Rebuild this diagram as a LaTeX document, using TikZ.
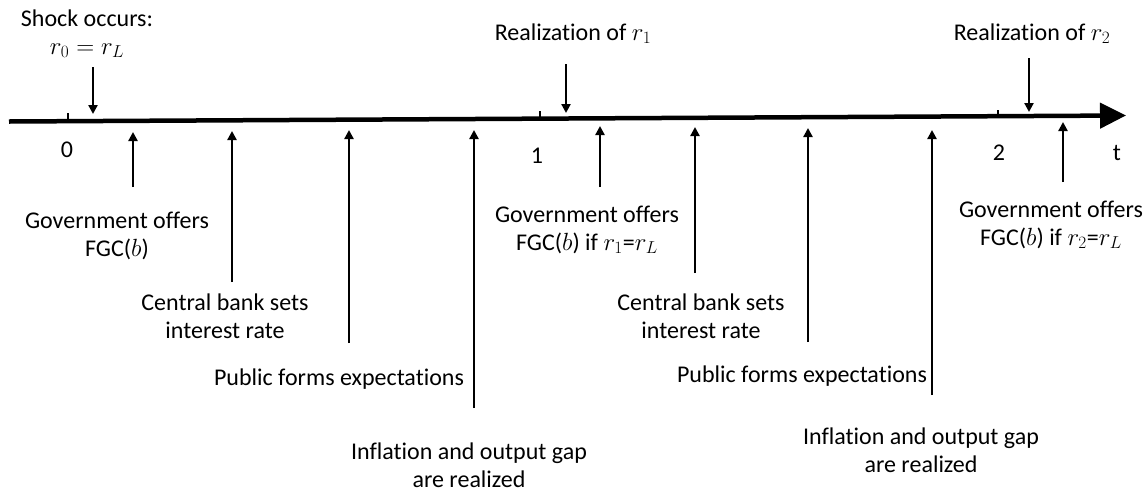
\documentclass[tikz,border=0pt]{standalone}
\usepackage{fontspec}
\setmainfont[Ligatures={NoCommon,NoContextual}]{Carlito}
\usetikzlibrary{arrows.meta}
\begin{document}
\begin{tikzpicture}[x=1pt,y=-1pt,
  lbl/.style={font=\fontsize{24}{28}\selectfont, inner sep=0pt, align=center, anchor=base},
  arr/.style={line width=2.5pt, -{Triangle[length=9pt,width=9pt]}},
  axisline/.style={line width=4.5pt, -{Triangle[length=26pt,width=25pt]}},
  tickmark/.style={line width=2pt}]
\useasboundingbox (0,0) rectangle (1145,491);

% axis
\coordinate (axL) at (9,121.5);
\coordinate (axR) at (1126,115.5);
\draw[axisline] (axL) -- (axR);

% ticks
\coordinate (t0a) at (68,121.2);   \coordinate (t0b) at (68,113);
\coordinate (t1a) at (540,118.6);  \coordinate (t1b) at (540,111);
\coordinate (t2a) at (998,116.2);  \coordinate (t2b) at (998,110);
\draw[tickmark] (t0a) -- (t0b);
\draw[tickmark] (t1a) -- (t1b);
\draw[tickmark] (t2a) -- (t2b);

% labels above (base anchor = baseline of the last line)
\node[lbl] (shock) at (87,54) {Shock occurs:\\$r_0=r_L$};
\node[lbl] (real1) at (573,40) {Realization of $r_1$};
\node[lbl] (real2) at (1032,40) {Realization of $r_2$};

% axis numbers
\node[lbl] (n0) at (67,157) {0};
\node[lbl] (n1) at (537,163) {1};
\node[lbl] (n2) at (999,160) {2};
\node[lbl] (tl) at (1117,160) {t};

% labels below
\node[lbl] (gov1) at (117,256) {Government offers\\FGC($b$)};
\node[lbl] (gov2) at (587,250) {Government offers\\FGC($b$) if $r_1$=$r_L$};
\node[lbl] (gov3) at (1051,245) {Government offers\\FGC($b$) if $r_2$=$r_L$};
\node[lbl] (cb1) at (225,338) {Central bank sets\\interest rate};
\node[lbl] (cb2) at (701,338) {Central bank sets\\interest rate};
\node[lbl] (pf1) at (339,385) {Public forms expectations};
\node[lbl] (pf2) at (802,382) {Public forms expectations};
\node[lbl] (in1) at (469,487) {Inflation and output gap\\are realized};
\node[lbl] (in2) at (921,472) {Inflation and output gap\\are realized};

% down arrows
\coordinate (d0a) at (93,67);   \coordinate (d0b) at (93,114);
\coordinate (d1a) at (566,64);  \coordinate (d1b) at (566,113);
\coordinate (d2a) at (1029,58); \coordinate (d2b) at (1029,112);
\draw[arr] (d0a) -- (d0b);
\draw[arr] (d1a) -- (d1b);
\draw[arr] (d2a) -- (d2b);

% up arrows
\coordinate (u1a) at (133,187);  \coordinate (u1b) at (133,132);
\coordinate (u2a) at (232,282);  \coordinate (u2b) at (232,131);
\coordinate (u3a) at (349,343);  \coordinate (u3b) at (349,130);
\coordinate (u4a) at (474,408);  \coordinate (u4b) at (474,130);
\coordinate (u5a) at (600,187);  \coordinate (u5b) at (600,126);
\coordinate (u6a) at (695,273);  \coordinate (u6b) at (695,127);
\coordinate (u7a) at (808,342);  \coordinate (u7b) at (808,128);
\coordinate (u8a) at (932,395);  \coordinate (u8b) at (932,130);
\coordinate (u9a) at (1063,182); \coordinate (u9b) at (1063,122);
\foreach \i in {1,...,9} {\draw[arr] (u\i a) -- (u\i b);}
\end{tikzpicture}
\end{document}
